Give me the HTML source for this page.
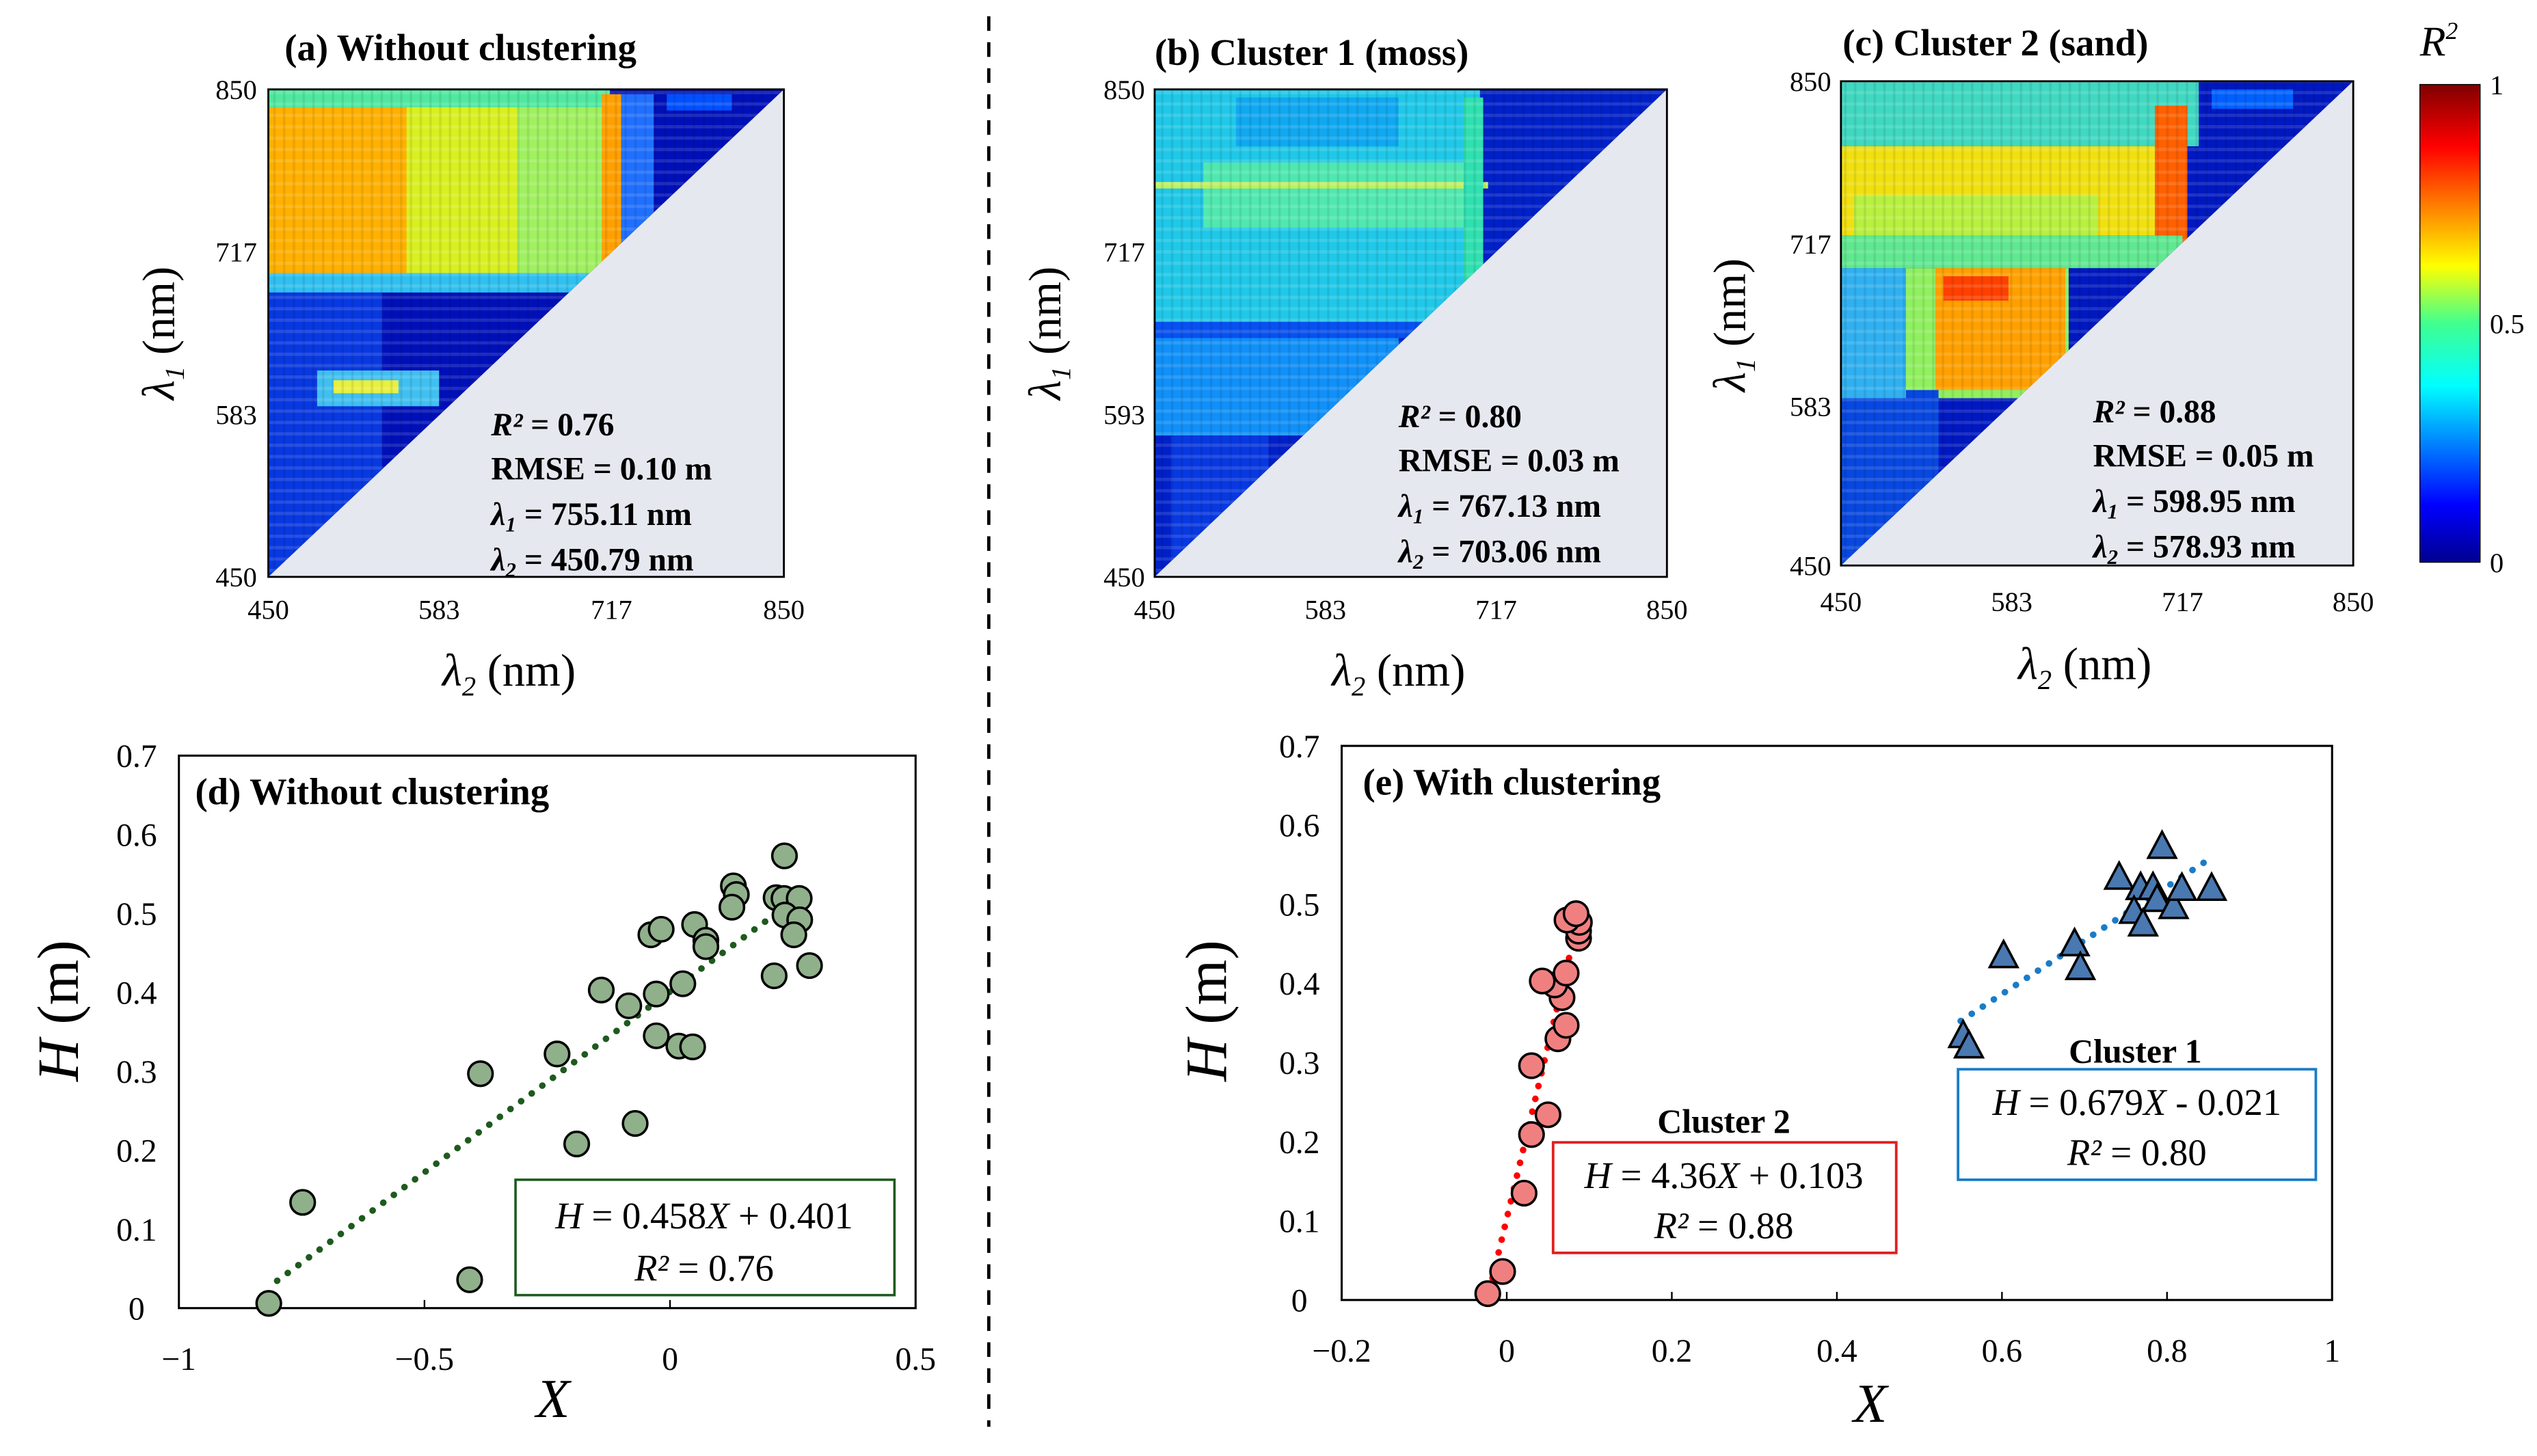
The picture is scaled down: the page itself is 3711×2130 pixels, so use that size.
<!DOCTYPE html>
<html><head><meta charset="utf-8"><style>
html,body{margin:0;padding:0;background:#fff}
svg{display:block}
text{font-family:"Liberation Serif",serif;fill:#000}
</style></head><body>
<svg id="fig" width="3711" height="2130" viewBox="0 0 1560 896" preserveAspectRatio="none" xmlns="http://www.w3.org/2000/svg">
<defs>
<linearGradient id="jet" x1="0" y1="1" x2="0" y2="0">
<stop offset="0" stop-color="#00008f"/><stop offset="0.12" stop-color="#0000ff"/><stop offset="0.37" stop-color="#00ffff"/><stop offset="0.5" stop-color="#40ff90"/><stop offset="0.62" stop-color="#ffff00"/><stop offset="0.87" stop-color="#ff0000"/><stop offset="1" stop-color="#800000"/>
</linearGradient>
<pattern id="stripes" width="6" height="7" patternUnits="userSpaceOnUse"><rect width="6" height="2" fill="#fff" opacity="0.12"/><rect x="0" y="0" width="1.5" height="7" fill="#000" opacity="0.08"/></pattern>
<clipPath id="ca"><polygon points="165,55 482,55 165,355"/></clipPath>
<clipPath id="cb"><polygon points="710,55 1025,55 710,355"/></clipPath>
<clipPath id="cc"><polygon points="1132,50 1447,50 1132,348"/></clipPath>
</defs>

<line x1="608" y1="10" x2="608" y2="878" stroke="#000" stroke-width="2" stroke-dasharray="9,7"/>

<g>
<rect x="165" y="55" width="317" height="300" fill="#e6e8f0"/>
<g clip-path="url(#ca)">
<rect x="165" y="55" width="317" height="300" fill="#0010b8"/>
<rect x="165" y="55" width="210" height="12" fill="#50e8a0"/>
<rect x="165" y="66" width="90" height="104" fill="#ffb000"/>
<rect x="250" y="66" width="70" height="104" fill="#d8f020"/>
<rect x="318" y="66" width="55" height="104" fill="#a0f060"/>
<rect x="370" y="58" width="12" height="112" fill="#ffa000"/>
<rect x="382" y="58" width="20" height="120" fill="#2070ff"/>
<rect x="165" y="168" width="210" height="12" fill="#30c0f0"/>
<rect x="165" y="180" width="70" height="175" fill="#0838e0"/>
<rect x="195" y="228" width="75" height="22" fill="#40c0f0"/>
<rect x="205" y="234" width="40" height="8" fill="#e8f040"/>
<rect x="410" y="58" width="40" height="10" fill="#0050ff"/>
<rect x="165" y="55" width="317" height="300" fill="url(#stripes)"/>
</g>
<rect x="165" y="55" width="317" height="300" fill="none" stroke="#000" stroke-width="1.2"/>
</g>
<text x="175" y="37" font-size="23" font-weight="bold">(a) Without clustering</text>
<g font-size="17">
<text x="158" y="61" text-anchor="end">850</text><text x="158" y="161" text-anchor="end">717</text><text x="158" y="261" text-anchor="end">583</text><text x="158" y="361" text-anchor="end">450</text>
<text x="165" y="381" text-anchor="middle">450</text><text x="270" y="381" text-anchor="middle">583</text><text x="376" y="381" text-anchor="middle">717</text><text x="482" y="381" text-anchor="middle">850</text>
</g>
<text x="313" y="422" font-size="28" text-anchor="middle"><tspan font-style="italic">λ</tspan><tspan font-size="17" dy="6" font-style="italic">2</tspan><tspan dy="-6"> (nm)</tspan></text>
<text transform="translate(107,205) rotate(-90)" font-size="28" text-anchor="middle"><tspan font-style="italic">λ</tspan><tspan font-size="17" dy="6" font-style="italic">1</tspan><tspan dy="-6"> (nm)</tspan></text>
<g font-size="20" font-weight="bold">
<text x="302" y="268"><tspan font-style="italic">R²</tspan> = 0.76</text><text x="302" y="295">RMSE = 0.10 m</text>
<text x="302" y="323"><tspan font-style="italic">λ<tspan font-size="13" dy="4">1</tspan></tspan><tspan dy="-4"> = 755.11 nm</tspan></text>
<text x="302" y="351"><tspan font-style="italic">λ<tspan font-size="13" dy="4">2</tspan></tspan><tspan dy="-4"> = 450.79 nm</tspan></text>
</g>

<g>
<rect x="710" y="55" width="315" height="300" fill="#e6e8f0"/>
<g clip-path="url(#cb)">
<rect x="710" y="55" width="315" height="300" fill="#0020c8"/>
<rect x="710" y="55" width="200" height="145" fill="#20c8e8"/>
<rect x="740" y="100" width="170" height="40" fill="#50e8b0"/>
<rect x="710" y="112" width="205" height="4" fill="#c0f060"/>
<rect x="760" y="60" width="100" height="30" fill="#10a8f0"/>
<rect x="710" y="198" width="170" height="10" fill="#0850f0"/>
<rect x="710" y="208" width="150" height="60" fill="#1090f8"/>
<rect x="720" y="268" width="60" height="87" fill="#0838e0"/>
<rect x="900" y="60" width="12" height="130" fill="#30e0b0"/>
<rect x="710" y="55" width="315" height="300" fill="url(#stripes)"/>
</g>
<rect x="710" y="55" width="315" height="300" fill="none" stroke="#000" stroke-width="1.2"/>
</g>
<text x="710" y="40" font-size="23" font-weight="bold">(b) Cluster 1 (moss)</text>
<g font-size="17">
<text x="704" y="61" text-anchor="end">850</text><text x="704" y="161" text-anchor="end">717</text><text x="704" y="261" text-anchor="end">593</text><text x="704" y="361" text-anchor="end">450</text>
<text x="710" y="381" text-anchor="middle">450</text><text x="815" y="381" text-anchor="middle">583</text><text x="920" y="381" text-anchor="middle">717</text><text x="1025" y="381" text-anchor="middle">850</text>
</g>
<text x="860" y="422" font-size="28" text-anchor="middle"><tspan font-style="italic">λ</tspan><tspan font-size="17" dy="6" font-style="italic">2</tspan><tspan dy="-6"> (nm)</tspan></text>
<text transform="translate(652,205) rotate(-90)" font-size="28" text-anchor="middle"><tspan font-style="italic">λ</tspan><tspan font-size="17" dy="6" font-style="italic">1</tspan><tspan dy="-6"> (nm)</tspan></text>
<g font-size="20" font-weight="bold">
<text x="860" y="263"><tspan font-style="italic">R²</tspan> = 0.80</text><text x="860" y="290">RMSE = 0.03 m</text>
<text x="860" y="318"><tspan font-style="italic">λ<tspan font-size="13" dy="4">1</tspan></tspan><tspan dy="-4"> = 767.13 nm</tspan></text>
<text x="860" y="346"><tspan font-style="italic">λ<tspan font-size="13" dy="4">2</tspan></tspan><tspan dy="-4"> = 703.06 nm</tspan></text>
</g>

<g>
<rect x="1132" y="50" width="315" height="298" fill="#e6e8f0"/>
<g clip-path="url(#cc)">
<rect x="1132" y="50" width="315" height="298" fill="#0018c0"/>
<rect x="1132" y="50" width="220" height="40" fill="#40d8c0"/>
<rect x="1132" y="90" width="200" height="55" fill="#f0e010"/>
<rect x="1140" y="120" width="150" height="25" fill="#b8f040"/>
<rect x="1325" y="65" width="20" height="85" fill="#ff6000"/>
<rect x="1132" y="145" width="210" height="20" fill="#60e890"/>
<rect x="1132" y="165" width="140" height="80" fill="#90f060"/>
<rect x="1190" y="165" width="80" height="75" fill="#ffa000"/>
<rect x="1195" y="170" width="40" height="15" fill="#ff4000"/>
<rect x="1132" y="240" width="60" height="108" fill="#0848e0"/>
<rect x="1132" y="165" width="40" height="80" fill="#30b0f0"/>
<rect x="1360" y="55" width="50" height="12" fill="#0060ff"/>
<rect x="1132" y="50" width="315" height="298" fill="url(#stripes)"/>
</g>
<rect x="1132" y="50" width="315" height="298" fill="none" stroke="#000" stroke-width="1.2"/>
</g>
<text x="1133" y="34" font-size="23" font-weight="bold">(c) Cluster 2 (sand)</text>
<g font-size="17">
<text x="1126" y="56" text-anchor="end">850</text><text x="1126" y="156" text-anchor="end">717</text><text x="1126" y="256" text-anchor="end">583</text><text x="1126" y="354" text-anchor="end">450</text>
<text x="1132" y="376" text-anchor="middle">450</text><text x="1237" y="376" text-anchor="middle">583</text><text x="1342" y="376" text-anchor="middle">717</text><text x="1447" y="376" text-anchor="middle">850</text>
</g>
<text x="1282" y="418" font-size="28" text-anchor="middle"><tspan font-style="italic">λ</tspan><tspan font-size="17" dy="6" font-style="italic">2</tspan><tspan dy="-6"> (nm)</tspan></text>
<text transform="translate(1073,200) rotate(-90)" font-size="28" text-anchor="middle"><tspan font-style="italic">λ</tspan><tspan font-size="17" dy="6" font-style="italic">1</tspan><tspan dy="-6"> (nm)</tspan></text>
<g font-size="20" font-weight="bold">
<text x="1287" y="260"><tspan font-style="italic">R²</tspan> = 0.88</text><text x="1287" y="287">RMSE = 0.05 m</text>
<text x="1287" y="315"><tspan font-style="italic">λ<tspan font-size="13" dy="4">1</tspan></tspan><tspan dy="-4"> = 598.95 nm</tspan></text>
<text x="1287" y="343"><tspan font-style="italic">λ<tspan font-size="13" dy="4">2</tspan></tspan><tspan dy="-4"> = 578.93 nm</tspan></text>
</g>

<rect x="1488" y="52" width="37" height="294" fill="url(#jet)" stroke="#000" stroke-width="0.6"/>
<text x="1488" y="34" font-size="26" font-style="italic">R<tspan font-size="15" dy="-10">2</tspan></text>
<g font-size="17">
<text x="1531" y="58">1</text><text x="1531" y="205">0.5</text><text x="1531" y="352">0</text>
</g>

<g id="scatD"></g>
<g id="scatE"></g>
</svg>
<script>
const dX = [-0.817,-0.748,-0.408,-0.386,-0.230,-0.190,-0.140,-0.084,-0.071,-0.039,-0.018,-0.028,-0.028,0.018,0.046,0.026,0.050,0.073,0.073,0.129,0.135,0.126,0.233,0.216,0.232,0.263,0.234,0.264,0.252,0.212,0.284];
const dY = [0.006,0.134,0.036,0.297,0.322,0.208,0.403,0.383,0.234,0.473,0.480,0.398,0.345,0.332,0.331,0.411,0.486,0.466,0.458,0.535,0.524,0.508,0.573,0.520,0.519,0.519,0.498,0.492,0.473,0.421,0.434];
const dFit = [0.458, 0.401];
const dFitRange = [-0.8, 0.27];
const dXTicks = [-1,-0.5,0,0.5];
const dXTickLabels = ["−1","−0.5","0","0.5"];
const yTicks = [0,0.1,0.2,0.3,0.4,0.5,0.6,0.7];
const yTickLabels = ["0","0.1","0.2","0.3","0.4","0.5","0.6","0.7"];
const c2X = [-0.023,-0.005,0.021,0.030,0.050,0.030,0.062,0.072,0.067,0.058,0.043,0.072,0.087,0.087,0.088,0.073,0.084];
const c2Y = [0.008,0.036,0.135,0.209,0.234,0.296,0.330,0.347,0.382,0.398,0.403,0.413,0.457,0.466,0.477,0.480,0.488];
const c1X = [0.553,0.560,0.602,0.688,0.695,0.742,0.768,0.783,0.760,0.771,0.788,0.794,0.808,0.818,0.854];
const c1Y = [0.334,0.321,0.435,0.450,0.420,0.534,0.521,0.521,0.491,0.475,0.506,0.573,0.497,0.520,0.520];
const c2Fit = [4.36, 0.103];
const c2FitRange = [-0.021, 0.09];
const c1Fit = [0.679, -0.021];
const c1FitRange = [0.55, 0.85];
const eXTicks = [-0.2,0,0.2,0.4,0.6,0.8,1];
const eXTickLabels = ["−0.2","0","0.2","0.4","0.6","0.8","1"];

const NS="http://www.w3.org/2000/svg";
function mk(parent, tag, attrs, txt){const e=document.createElementNS(NS,tag);for(const k in attrs)e.setAttribute(k,attrs[k]);if(txt!==undefined)e.textContent=txt;parent.appendChild(e);return e;}

function axes(g, box, xmin, xmax, xTicks, xLabels){
  const sx=v=>box.x0+(v-xmin)/(xmax-xmin)*(box.x1-box.x0);
  const sy=v=>box.y1-(v-0)/(0.7)*(box.y1-box.y0);
  const fr=mk(g,'rect',{x:box.x0,y:box.y0,width:box.x1-box.x0,height:box.y1-box.y0,fill:'none',stroke:'#000','stroke-width':1.3});
  
  
  yTicks.forEach((t,i)=>{
    const tx=mk(g,'text',{x:box.x0-26,y:sy(t)+7,'font-size':20,'text-anchor':'middle'},yTickLabels[i]);
    
    
  });
  xTicks.forEach((t,i)=>{
    mk(g,'line',{x1:sx(t),x2:sx(t),y1:box.y1,y2:box.y1-5,stroke:'#000','stroke-width':1});
    const tx=mk(g,'text',{x:sx(t),y:box.y1+38,'font-size':20,'text-anchor':'middle'},xLabels[i]);
    
    
  });
  return {sx,sy};
}
function fitLine(g,s,fit,range,color,name){
  const l=mk(g,'line',{x1:s.sx(range[0]),y1:s.sy(fit[0]*range[0]+fit[1]),x2:s.sx(range[1]),y2:s.sy(fit[0]*range[1]+fit[1]),stroke:color,'stroke-width':4,'stroke-dasharray':'0.1,8','stroke-linecap':'round'});
  
  
}

const gd=document.getElementById('scatD');
const boxD={x0:110,x1:563,y0:465,y1:805};
const sD=axes(gd,boxD,-1,0.5,dXTicks,dXTickLabels);
fitLine(gd,sD,dFit,dFitRange,'#1e5a1e','trend-line-d');
dX.forEach((x,i)=>{
  const c=mk(gd,'circle',{cx:sD.sx(x),cy:sD.sy(dY[i]),r:7.5,fill:'#8fb08a',stroke:'#000','stroke-width':1.5});
  
  
});
let t=mk(gd,'text',{x:120,y:495,'font-size':23,'font-weight':'bold'},'(d) Without clustering');


let r=mk(gd,'rect',{x:317,y:726,width:233,height:71,fill:'#fff',stroke:'#1e5a1e','stroke-width':1.5});


t=mk(gd,'text',{x:433,y:756,'font-size':23,'text-anchor':'middle'});
t.innerHTML='<tspan font-style="italic">H</tspan> = 0.458<tspan font-style="italic">X</tspan> + 0.401';


t=mk(gd,'text',{x:433,y:788,'font-size':23,'text-anchor':'middle'});
t.innerHTML='<tspan font-style="italic">R²</tspan> = 0.76';


t=mk(gd,'text',{x:340,y:872,'font-size':34,'font-style':'italic','text-anchor':'middle'},'X');


t=mk(gd,'text',{transform:'translate(48,622) rotate(-90)','font-size':36,'text-anchor':'middle'});
t.innerHTML='<tspan font-style="italic">H</tspan> (m)';



const ge=document.getElementById('scatE');
const boxE={x0:825,x1:1434,y0:459,y1:800};
const sE=axes(ge,boxE,-0.2,1,eXTicks,eXTickLabels);
fitLine(ge,sE,c2Fit,c2FitRange,'#ff0000','trend-line-cluster2');
fitLine(ge,sE,c1Fit,c1FitRange,'#1a7cc8','trend-line-cluster1');
c2X.forEach((x,i)=>{
  const c=mk(ge,'circle',{cx:sE.sx(x),cy:sE.sy(c2Y[i]),r:7.5,fill:'#f08080',stroke:'#000','stroke-width':1.5});
  
  
});
c1X.forEach((x,i)=>{
  const cx=sE.sx(x), cy=sE.sy(c1Y[i]);
  const p=mk(ge,'polygon',{points:`${cx},${cy-9} ${cx-8.5},${cy+7} ${cx+8.5},${cy+7}`,fill:'#4a78b0',stroke:'#000','stroke-width':1.5});
  
  
});
t=mk(ge,'text',{x:838,y:489,'font-size':23,'font-weight':'bold'},'(e) With clustering');


t=mk(ge,'text',{x:1060,y:697,'font-size':21,'font-weight':'bold','text-anchor':'middle'},'Cluster 2');


r=mk(ge,'rect',{x:955,y:703,width:211,height:68,fill:'#fff',stroke:'#e02020','stroke-width':1.6});


t=mk(ge,'text',{x:1060,y:731,'font-size':23,'text-anchor':'middle'});
t.innerHTML='<tspan font-style="italic">H</tspan> = 4.36<tspan font-style="italic">X</tspan> + 0.103';


t=mk(ge,'text',{x:1060,y:762,'font-size':23,'text-anchor':'middle'});
t.innerHTML='<tspan font-style="italic">R²</tspan> = 0.88';


t=mk(ge,'text',{x:1313,y:654,'font-size':21,'font-weight':'bold','text-anchor':'middle'},'Cluster 1');


r=mk(ge,'rect',{x:1204,y:658,width:220,height:68,fill:'#fff',stroke:'#1a7cc8','stroke-width':1.6});


t=mk(ge,'text',{x:1314,y:686,'font-size':23,'text-anchor':'middle'});
t.innerHTML='<tspan font-style="italic">H</tspan> = 0.679<tspan font-style="italic">X</tspan> - 0.021';


t=mk(ge,'text',{x:1314,y:717,'font-size':23,'text-anchor':'middle'});
t.innerHTML='<tspan font-style="italic">R²</tspan> = 0.80';


t=mk(ge,'text',{x:1150,y:875,'font-size':34,'font-style':'italic','text-anchor':'middle'},'X');


t=mk(ge,'text',{transform:'translate(754,622) rotate(-90)','font-size':36,'text-anchor':'middle'});
t.innerHTML='<tspan font-style="italic">H</tspan> (m)';


</script>
</body></html>
